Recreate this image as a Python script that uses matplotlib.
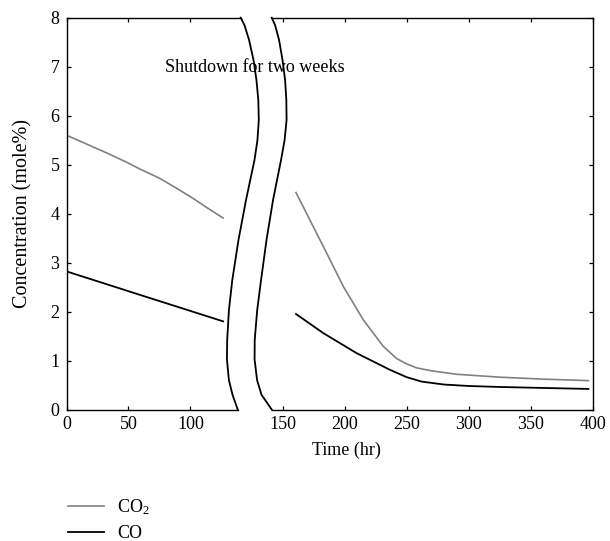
import matplotlib
matplotlib.use("Agg")
import matplotlib.pyplot as plt
from matplotlib.lines import Line2D

plt.rcParams['font.family'] = ['Liberation Serif', 'DejaVu Serif']
plt.rcParams['font.size'] = 13
plt.rcParams['mathtext.fontset'] = 'custom'
plt.rcParams['mathtext.rm'] = 'Liberation Serif'
plt.rcParams['mathtext.default'] = 'regular'

# data
co2_before_t = [0, 10, 21.5, 35, 48.4, 60, 75.2, 88, 102.1, 114, 126.3]
co2_before = [5.60, 5.49, 5.36, 5.21, 5.05, 4.90, 4.72, 4.53, 4.31, 4.11, 3.91]
co_before_t = [0, 61.8, 126.3]
co_before = [2.82, 2.32, 1.80]

co2_after_t = [160.7, 182.7, 198.9, 215.0, 231.1, 241.9, 250, 258, 270, 290, 325, 360, 396.5]
co2_after = [4.43, 3.33, 2.51, 1.83, 1.29, 1.04, 0.93, 0.85, 0.79, 0.72, 0.66, 0.62, 0.59]
co_after_t = [160.7, 182.7, 209.6, 236.5, 250, 262, 280, 300, 325, 360, 396.5]
co_after = [1.95, 1.56, 1.15, 0.81, 0.66, 0.57, 0.51, 0.48, 0.46, 0.44, 0.42]

left_ticks = [0, 50, 100]
right_ticks = [150, 200, 250, 300, 350, 400]
y_ticks = [0, 1, 2, 3, 4, 5, 6, 7, 8]

# break marks (left one in left-axis units, right one in right-axis units)
brk_y = [8.0, 7.85, 7.55, 7.14, 6.73, 6.32, 5.91, 5.50, 5.09, 4.28, 3.46, 2.64, 2.03, 1.42, 1.02, 0.60, 0.30, 0.0]
brk_left_x = [140.5, 143.5, 147.2, 150.8, 153.2, 154.7, 155.1, 154.0, 151.6, 144.8, 138.7,
              133.7, 131.0, 129.6, 129.4, 131.0, 133.9, 138.1]
brk_right_x = [141.1, 143.8, 147.0, 149.8, 151.9, 152.9, 153.1, 151.5, 148.6, 142.2, 136.9,
               132.5, 129.4, 127.4, 127.3, 129.3, 132.9, 141.1]

gray = '#808080'

fig = plt.figure(figsize=(6.1, 5.41), dpi=100)
bottom, height = 131.5 / 541, 391.8 / 541
ax1 = fig.add_axes([66.5 / 610, bottom, 174.2 / 610, height])
ax2 = fig.add_axes([271.7 / 610, bottom, 321.0 / 610, height])

ax1.plot(co2_before_t, co2_before, color=gray, lw=1.2)
ax1.plot(co_before_t, co_before, color='black', lw=1.3)
ax2.plot(co2_after_t, co2_after, color=gray, lw=1.2)
ax2.plot(co_after_t, co_after, color='black', lw=1.3)

ax1.set_xlim(0, 140.5)
ax2.set_xlim(141.1, 400)
for ax in (ax1, ax2):
    ax.set_ylim(0, 8)
    ax.tick_params(direction='in', length=3, width=0.9, top=True, right=True, pad=5)
    for s in ax.spines.values():
        s.set_linewidth(1.0)

ax1.set_xticks(left_ticks)
ax2.set_xticks(right_ticks)
ax1.set_yticks(y_ticks)
ax2.set_yticks(y_ticks)
ax1.spines['right'].set_visible(False)
ax2.spines['left'].set_visible(False)
ax1.tick_params(right=False)
ax2.tick_params(left=False, labelleft=False)
ax1.spines['bottom'].set_bounds(0, 138.1)
ax2.spines['bottom'].set_bounds(141.1, 400)

ax1.plot(brk_left_x, brk_y, color='black', lw=1.3, clip_on=False, solid_joinstyle='round')
ax2.plot(brk_right_x, brk_y, color='black', lw=1.3, clip_on=False, solid_joinstyle='round')

ax1.set_ylabel('Concentration (mole%)', labelpad=13, fontsize=14.5)
fig.text(346 / 610, 1 - 450 / 541, 'Time (hr)', ha='center', va='center')
fig.text(255 / 610, 1 - 68 / 541, 'Shutdown for two weeks', ha='center', va='center', fontsize=13)

handles = [Line2D([], [], color=gray, lw=1.2), Line2D([], [], color='black', lw=1.3)]
fig.legend(handles, ['CO$_2$', 'CO'], loc='upper left', bbox_to_anchor=(67.7 / 610, 1 - 497 / 541),
           frameon=False, borderpad=0, borderaxespad=0, handlelength=2.0,
           handletextpad=0.75, labelspacing=0.45)

fig.savefig('out.png', dpi=100)
